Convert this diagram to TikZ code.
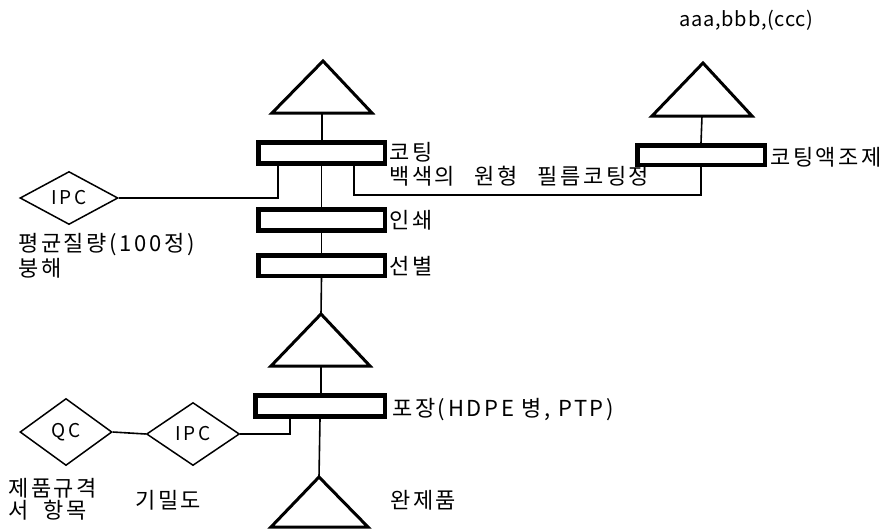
\documentclass[tikz,border=0pt]{standalone}
\usepackage{fontspec}
\setmainfont{Noto Sans CJK KR}[LetterSpace=12]
\usetikzlibrary{shapes.geometric,calc}

\tikzset{
  stepbox/.style={draw, line width=4.5pt, inner sep=0pt, minimum height=21pt},
  tri/.style={draw, line width=3pt, line join=miter},
  link/.style={draw, line width=1.6pt},
  check/.style={shape=diamond, draw, line width=1.5pt, inner sep=0pt,
    font=\fontsize{19}{22}\selectfont},
  lbl/.style={anchor=west, inner sep=0pt, font=\fontsize{22}{26}\selectfont},
}

\begin{document}
\begin{tikzpicture}[x=1pt, y=-1pt]
\useasboundingbox (0,0) rectangle (888,528);

% storage triangles
\coordinate (t1a) at (323,61);  \coordinate (t1b) at (322,113);
\draw[tri] (t1a) -- (272,113) -- (372,113) -- cycle;
\coordinate (t4a) at (703,63);  \coordinate (t4b) at (702,116);
\draw[tri] (t4a) -- (652,116) -- (752,116) -- cycle;
\coordinate (t2a) at (321,314); \coordinate (t2b) at (321,366);
\draw[tri] (t2a) -- (271,366) -- (370,366) -- cycle;
\coordinate (t3a) at (319,477);
\draw[tri] (t3a) -- (271,527) -- (368,527) -- cycle;

% process steps
\node[stepbox, minimum width=126.5pt] (b1) at (321.5,153) {};
\node[stepbox, minimum width=126.5pt] (b2) at (321.5,220) {};
\node[stepbox, minimum width=126.5pt, minimum height=20.5pt] (b3) at (321.5,265.5) {};
\node[stepbox, minimum width=127.5pt, minimum height=19.5pt] (b4) at (701,155) {};
\node[stepbox, minimum width=129.5pt] (b5) at (320,406) {};

% checks
\node[check, minimum width=98pt, minimum height=53pt] (ipc1) at (69,198) {IPC};
\node[check, minimum width=92pt, minimum height=67pt] (qc) at (66,432) {QC};
\node[check, minimum width=93pt, minimum height=63pt] (ipc2) at (193,434) {IPC};

% main flow
\draw[link] (t1b) -- (t1b |- b1.north);
\draw[link] (b1.south) -- (b2.north);
\draw[link] (b2.south) -- (b3.north);
\draw[link] (b3.south) -- (t2a);
\draw[link] (t2b) -- (t2b |- b5.north);
\draw[link] (b5.south) -- (t3a);
\draw[link] (b4.north) -- (t4b);

% side branches
\coordinate (k1) at ($(b1.south west)+(22,0)$);
\draw[link] (k1) |- (ipc1.east);
\coordinate (k2) at ($(b1.south west)+(98,0)$);
\coordinate (k3) at ($(b4.south)+(0,28)$);
\draw[link] (k2) |- (k3) -- (b4.south);
\coordinate (k4) at ($(b5.south west)+(37,0)$);
\draw[link] (k4) |- (ipc2.east);
\draw[link] (qc.east) -- (ipc2.west);

% labels
\node[lbl, font=\fontsize{20}{24}\selectfont\addfontfeatures{LetterSpace=4}] (top) at (679,20) {aaa,bbb,(ccc)};
\node[lbl] (l1) at (389,152) {코팅};
\node[lbl] (l1b) at (389,176) {백색의\hspace{12pt} 원형\hspace{12pt} 필름코팅정};
\node[lbl] (l2) at (389,220) {인쇄};
\node[lbl] (l3) at (389,266) {선별};
\node[lbl] (l4) at (770,157) {코팅액조제};
\node[lbl] (l5) at (392,410) {포장(HDPE 병, PTP)};
\node[lbl] (c1) at (18,245) {평균질량(100정)};
\node[lbl] (c1b) at (18,268) {붕해};
\node[lbl] (c2) at (8,488) {제품규격};
\node[lbl] (c2b) at (8,510) {서\hspace{8pt} 항목};
\node[lbl] (c3) at (135,500) {기밀도};
\node[lbl] (l6) at (390,500) {완제품};
\end{tikzpicture}
\end{document}
